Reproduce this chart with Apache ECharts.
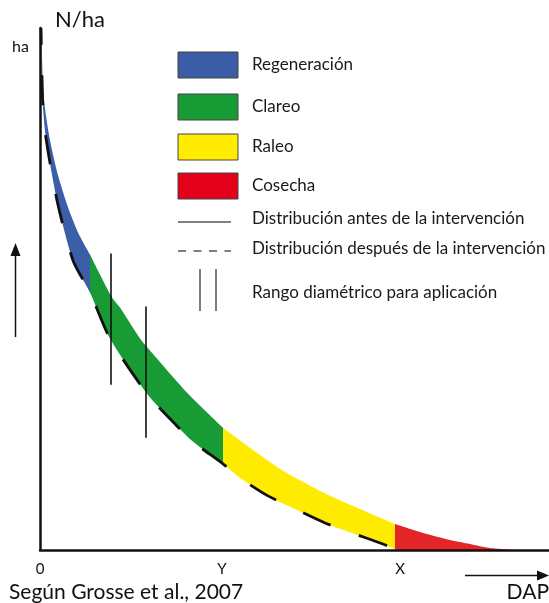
<!DOCTYPE html>
<html>
<head>
<meta charset="utf-8">
<script src="https://cdn.jsdelivr.net/npm/echarts@6/dist/echarts.min.js"></script>
<style>
html,body{margin:0;padding:0;background:#fff;}
#chart{width:549px;height:603px;}
</style>
</head>
<body>
<div id="chart"></div>
<script>
// ---------- data (arbitrary DAP / N/ha units) ----------
const phaseNames = ['Regeneración', 'Clareo', 'Raleo', 'Cosecha'];
// DAP values where each phase starts / ends (along the "before" curve)
const phaseBreaks = [1, 50, 183, 355, 475];

// distribution before the intervention (upper edge of the band)
const beforeX = [1, 2, 4, 10, 18, 28, 38, 50, 72, 80, 100, 110, 130, 150, 183, 210, 243, 280, 320, 355, 380, 410, 430, 450, 475];
const beforeY = [521, 490, 449, 409, 374, 342, 317, 295, 252, 242, 211, 199, 176, 154, 122, 102, 79, 59, 41, 26, 18, 10, 6, 2, 0];

// distribution after the intervention (dashed curve)
const afterX = [1, 2, 3, 6, 17, 33, 50, 70, 107, 130, 152, 183, 200, 228, 255, 285, 312, 343, 357];
const afterY = [521, 472, 442, 411, 349, 289, 257, 211, 156, 131, 109, 86, 72, 54, 41, 27, 17, 6, 0];

// diametric range of application (two vertical marks)
const rangeX = [71, 106];
const rangeLow = [165, 112];
const rangeHigh = [296, 243];

// x-axis tick labels
const tickValues = [0, 182, 360];
const tickLabels = ['0', 'Y', 'X'];

// ---------- styles ----------
const phaseColors = ['#3b5ea8', '#189b34', '#ffeb00', '#e32528'];
const legendColors = ['#3b5ca6', '#169b35', '#ffec00', '#e2001a'];
const FONT = 'Lato, "Open Sans", sans-serif';

const beforePts = beforeX.map((x, i) => [x, beforeY[i]]);
const afterPts = afterX.map((x, i) => [x, afterY[i]]);

const series = [];
phaseNames.forEach((name, i) => {
  const lo = phaseBreaks[i], hi = phaseBreaks[i + 1];
  series.push({
    name: name,
    type: 'line',
    data: beforePts.filter(p => p[0] >= lo && p[0] <= hi),
    smooth: 0.25,
    symbol: 'none',
    lineStyle: { width: 0 },
    areaStyle: { color: phaseColors[i], opacity: 1 },
    z: 2,
    silent: true
  });
});
// white mask below the "after" curve, drawn with the dashed line
series.push({
  name: 'Distribución después de la intervención',
  type: 'line',
  data: afterPts,
  smooth: 0.25,
  symbol: 'none',
  lineStyle: { color: '#111', width: 2.8, type: [30, 30], dashOffset: 13 },
  areaStyle: { color: '#ffffff', opacity: 1 },
  z: 3,
  silent: true
});
rangeX.forEach((x, i) => {
  series.push({
    name: 'Rango ' + (i + 1),
    type: 'line',
    data: [[x, rangeLow[i]], [x, rangeHigh[i]]],
    symbol: 'none',
    lineStyle: { color: '#111', width: 1.6 },
    z: 4,
    silent: true
  });
});

// ---------- legend & annotations as graphics ----------
const graphic = [];
const boxTops = [52, 94, 134, 173];
const LFONT = '17px ' + FONT;
phaseNames.forEach((name, i) => {
  graphic.push({
    type: 'rect',
    shape: { x: 178, y: boxTops[i], width: 60, height: 26 },
    style: { fill: legendColors[i], stroke: '#444', lineWidth: 1 }
  });
  graphic.push({
    type: 'text',
    style: { x: 252, y: boxTops[i] + 13, text: name, font: LFONT, fill: '#1a1a1a', textVerticalAlign: 'middle' }
  });
});
graphic.push({ type: 'line', shape: { x1: 178, y1: 222, x2: 231, y2: 222 }, style: { stroke: '#555', lineWidth: 1.5 } });
graphic.push({ type: 'text', style: { x: 252, y: 219, text: 'Distribución antes de la intervención', font: LFONT, fill: '#1a1a1a', textVerticalAlign: 'middle' } });
graphic.push({ type: 'line', shape: { x1: 178, y1: 251, x2: 231, y2: 251 }, style: { stroke: '#555', lineWidth: 1.5, lineDash: [8, 7.5] } });
graphic.push({ type: 'text', style: { x: 252, y: 249, text: 'Distribución después de la intervención', font: LFONT, fill: '#1a1a1a', textVerticalAlign: 'middle' } });
graphic.push({ type: 'line', shape: { x1: 200, y1: 269, x2: 200, y2: 311 }, style: { stroke: '#555', lineWidth: 1.5 } });
graphic.push({ type: 'line', shape: { x1: 216, y1: 269, x2: 216, y2: 311 }, style: { stroke: '#555', lineWidth: 1.5 } });
graphic.push({ type: 'text', style: { x: 252, y: 293, text: 'Rango diamétrico para aplicación', font: LFONT, fill: '#1a1a1a', textVerticalAlign: 'middle' } });

graphic.push({ type: 'text', style: { x: 55, y: 20, text: 'N/ha', font: '22px ' + FONT, fill: '#111', textVerticalAlign: 'middle' } });
graphic.push({ type: 'text', style: { x: 12, y: 47, text: 'ha', font: '16px ' + FONT, fill: '#111', textVerticalAlign: 'middle' } });
graphic.push({ type: 'text', style: { x: 9, y: 592, text: 'Según Grosse et al., 2007', font: '21px ' + FONT, fill: '#111', textVerticalAlign: 'middle' } });
graphic.push({ type: 'text', style: { x: 549, y: 592, text: 'DAP', font: '21px ' + FONT, fill: '#111', textAlign: 'right', textVerticalAlign: 'middle' } });
// arrows
graphic.push({ type: 'line', shape: { x1: 15.5, y1: 337, x2: 15.5, y2: 254 }, style: { stroke: '#111', lineWidth: 1.5 } });
graphic.push({ type: 'polygon', shape: { points: [[15.5, 243], [10.5, 256], [20.5, 256]] }, style: { fill: '#111' } });
graphic.push({ type: 'line', shape: { x1: 465, y1: 575.5, x2: 540, y2: 575.5 }, style: { stroke: '#111', lineWidth: 1.5 } });
graphic.push({ type: 'polygon', shape: { points: [[549, 575.5], [537, 570.5], [537, 580.5]] }, style: { fill: '#111' } });

const chart = echarts.init(document.getElementById('chart'), null, { renderer: 'canvas' });
chart.setOption({
  animation: false,
  backgroundColor: '#ffffff',
  grid: { left: 40, right: 0, top: 28, bottom: 53, containLabel: false },
  xAxis: {
    type: 'value', min: 0, max: 509, z: 10,
    axisLine: { show: true, lineStyle: { color: '#111', width: 2.5 } },
    axisTick: { show: false },
    splitLine: { show: false },
    axisLabel: {
      show: true,
      customValues: tickValues,
      formatter: v => tickLabels[tickValues.indexOf(v)] ?? '',
      margin: 12,
      fontFamily: FONT,
      fontSize: 15,
      color: '#111'
    }
  },
  yAxis: {
    type: 'value', min: 0, max: 521, z: 10,
    axisLine: { show: true, lineStyle: { color: '#111', width: 2.5 } },
    axisTick: { show: false },
    splitLine: { show: false },
    axisLabel: { show: false }
  },
  series: series,
  graphic: graphic
});
</script>
</body>
</html>
